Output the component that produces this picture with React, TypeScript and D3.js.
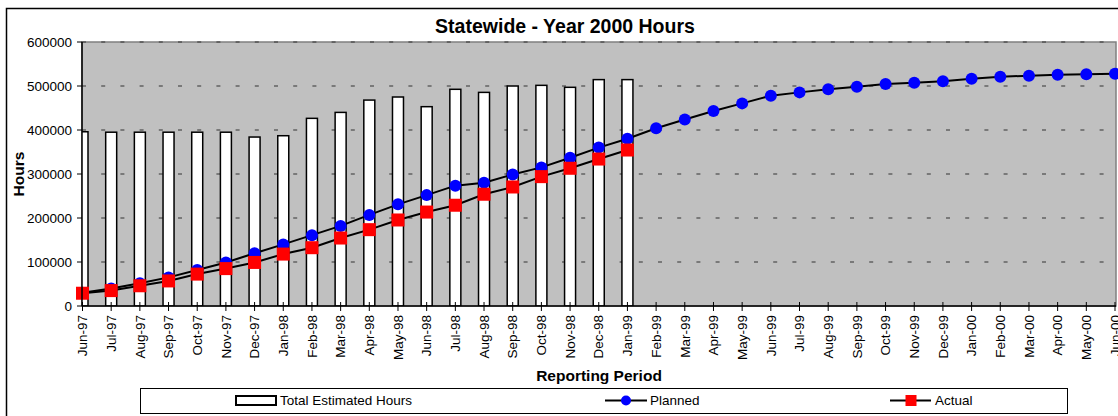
import React from "react";
import * as d3 from "d3";

const categories = [
  "Jun-97", "Jul-97", "Aug-97", "Sep-97", "Oct-97", "Nov-97", "Dec-97",
  "Jan-98", "Feb-98", "Mar-98", "Apr-98", "May-98", "Jun-98", "Jul-98",
  "Aug-98", "Sep-98", "Oct-98", "Nov-98", "Dec-98", "Jan-99", "Feb-99",
  "Mar-99", "Apr-99", "May-99", "Jun-99", "Jul-99", "Aug-99", "Sep-99",
  "Oct-99", "Nov-99", "Dec-99", "Jan-00", "Feb-00", "Mar-00", "Apr-00",
  "May-00", "Jun-00",
];

const totalEstimated = [
  396000, 395000, 395000, 395000, 395000, 395000, 384000, 387000, 426500,
  440000, 468000, 475000, 453000, 492500, 485500, 500000, 501500, 497000,
  514500, 514500,
];

const planned = [
  30000, 40000, 51500, 65000, 82000, 99000, 120000, 140000, 161000, 182000,
  207000, 231000, 252000, 273500, 280000, 299000, 315000, 337000, 360000,
  380000, 404000, 424000, 443000, 460500, 478000, 485500, 492500, 498500,
  504500, 507500, 511000, 516500, 521000, 523500, 525500, 526500, 528000,
];

const actual = [
  29000, 35000, 46000, 57000, 72500, 85000, 99000, 118000, 132500, 154500,
  173500, 195500, 213500, 229000, 254000, 270500, 294000, 313000, 334000,
  354500,
];

const yTicks = [0, 100000, 200000, 300000, 400000, 500000, 600000];

const FONT = "'Liberation Sans', Arial, Helvetica, sans-serif";

export default function App() {
  const W = 1118;
  const H = 416;
  const plot = { x0: 82, x1: 1116, y0: 42, y1: 306 };

  const x = d3
    .scalePoint<string>()
    .domain(categories)
    .range([82.5, 1115]);
  const y = d3.scaleLinear().domain([0, 600000]).range([plot.y1, plot.y0]);

  const barW = 11;

  const line = d3
    .line<number>()
    .x((_, i) => x(categories[i]) as number)
    .y((d) => y(d));

  return (
    <svg
      width={W}
      height={H}
      style={{ position: "absolute", left: 0, top: 0, background: "#fff" }}
      fontFamily={FONT}
    >
      <defs>
        <clipPath id="plotClip">
          <rect x={plot.x0} y={plot.y0} width={plot.x1 - plot.x0} height={plot.y1 - plot.y0} />
        </clipPath>
      </defs>
      {/* outer chart border */}
      <rect x={6.5} y={8.5} width={1140} height={430} fill="#fff" stroke="#000" strokeWidth={1.5} />

      {/* title */}
      <text x={565} y={33} textAnchor="middle" fontSize={19.5} fontWeight="bold">
        Statewide - Year 2000 Hours
      </text>

      {/* plot background */}
      <rect
        x={plot.x0}
        y={plot.y0}
        width={plot.x1 - plot.x0}
        height={plot.y1 - plot.y0}
        fill="#C0C0C0"
        stroke="#808080"
        strokeWidth={1.5}
      />

      {/* gridlines */}
      {yTicks.slice(1).map((t) => (
        <line
          key={"g" + t}
          x1={plot.x0}
          x2={plot.x1}
          y1={y(t)}
          y2={y(t)}
          stroke="#333"
          strokeWidth={1.2}
          strokeDasharray="4,15.2"
        />
      ))}

      {/* bars */}
      <g clipPath="url(#plotClip)">
        {totalEstimated.map((v, i) => (
          <rect
            key={"b" + i}
            x={(x(categories[i]) as number) - barW / 2}
            y={y(v)}
            width={barW}
            height={y(0) - y(v)}
            fill="#fff"
            stroke="#000"
            strokeWidth={1.5}
          />
        ))}
      </g>

      {/* planned */}
      <path d={line(planned) || ""} fill="none" stroke="#000" strokeWidth={2} />
      {planned.map((v, i) => (
        <circle key={"p" + i} cx={x(categories[i]) as number} cy={y(v)} r={6} fill="#0000FF" />
      ))}

      {/* actual */}
      <path d={line(actual) || ""} fill="none" stroke="#000" strokeWidth={2} />
      {actual.map((v, i) => (
        <rect
          key={"a" + i}
          x={(x(categories[i]) as number) - 6.5}
          y={y(v) - 6.5}
          width={13}
          height={13}
          fill="#FF0000"
        />
      ))}

      {/* axes */}
      <line x1={plot.x0} x2={plot.x0} y1={plot.y0} y2={plot.y1} stroke="#000" strokeWidth={1.5} />
      <line x1={plot.x0} x2={plot.x1} y1={plot.y1} y2={plot.y1} stroke="#000" strokeWidth={1.5} />
      {yTicks.map((t) => (
        <g key={"yt" + t}>
          <line x1={plot.x0 - 5} x2={plot.x0} y1={y(t)} y2={y(t)} stroke="#000" strokeWidth={1} />
          <text x={72} y={y(t)} dy="0.35em" textAnchor="end" fontSize={13.5}>
            {t}
          </text>
        </g>
      ))}
      {categories.map((c) => {
        const cx = x(c) as number;
        return (
          <g key={"xt" + c}>
            <line x1={cx} x2={cx} y1={plot.y1 - 4} y2={plot.y1 + 5} stroke="#000" strokeWidth={1} />
            <text
              transform={`translate(${cx},${315}) rotate(-90)`}
              dy="0.35em"
              textAnchor="end"
              fontSize={13.5}
            >
              {c}
            </text>
          </g>
        );
      })}

      {/* axis titles */}
      <text transform="translate(24,174) rotate(-90)" textAnchor="middle" fontSize={15.5} fontWeight="bold">
        Hours
      </text>
      <text x={599} y={380.5} textAnchor="middle" fontSize={15.5} fontWeight="bold">
        Reporting Period
      </text>

      {/* legend */}
      <rect x={140.5} y={388.5} width={927} height={25} fill="#fff" stroke="#000" strokeWidth={1} />
      <rect x={236} y={396} width={40} height={9} fill="#fff" stroke="#000" strokeWidth={2} />
      <text x={280} y={400.5} dy="0.35em" fontSize={13.5}>
        Total Estimated Hours
      </text>
      <line x1={605} x2={647} y1={400.5} y2={400.5} stroke="#000" strokeWidth={2} />
      <circle cx={626} cy={400.5} r={5} fill="#0000FF" />
      <text x={650} y={400.5} dy="0.35em" fontSize={13.5}>
        Planned
      </text>
      <line x1={890} x2={931} y1={400.5} y2={400.5} stroke="#000" strokeWidth={2} />
      <rect x={905.5} y={395} width={11} height={11} fill="#FF0000" />
      <text x={935} y={400.5} dy="0.35em" fontSize={13.5}>
        Actual
      </text>
    </svg>
  );
}
